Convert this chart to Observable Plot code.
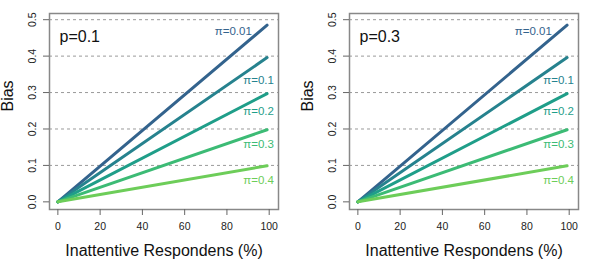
<!DOCTYPE html>
<html>
<head>
<meta charset="utf-8">
<script src="https://cdn.jsdelivr.net/npm/d3@7"></script>
<script src="https://cdn.jsdelivr.net/npm/@observablehq/plot@0.6"></script>
<style>
  html, body { margin: 0; padding: 0; background: #fff; }
  #wrap { display: flex; width: 599px; height: 270px; }
</style>
</head>
<body>
<div id="wrap"></div>
<script>
// ---- data ----
const panelLabels = ["p=0.1", "p=0.3"];
const piLabels = ["π=0.01", "π=0.1", "π=0.2", "π=0.3", "π=0.4"];
const startX = 0;
const endX = 99;
const startBias = [0, 0, 0, 0, 0];
const endBias = [0.485, 0.396, 0.297, 0.198, 0.099];
const labelX = [83, 95, 95, 95, 95];
const labelY = [0.468, 0.334, 0.249, 0.158, 0.059];
const lineColors = ["#33638D", "#26828E", "#1F9E89", "#3CBB75", "#6DCD59"];
const xTicks = [0, 20, 40, 60, 80, 100];
const yTicks = [0, 0.1, 0.2, 0.3, 0.4, 0.5];
const gridY = [0.1, 0.2, 0.3, 0.4, 0.5];
const xTitle = "Inattentive Respondens (%)";
const yTitle = "Bias";

const rows = piLabels.flatMap((pi, i) => [
  {pi, x: startX, bias: startBias[i]},
  {pi, x: endX, bias: endBias[i]}
]);
const labels = piLabels.map((pi, i) => ({pi, x: labelX[i], y: labelY[i]}));

function panel(pLabel, width) {
  return Plot.plot({
    width, height: 270,
    marginLeft: 49, marginRight: width - 278, marginTop: 13, marginBottom: 61,
    x: {domain: [-3.96, 104.4]},
    y: {domain: [-0.021, 0.517]},
    color: {type: "ordinal", domain: piLabels, range: lineColors},
    style: {fontFamily: "'Liberation Sans', Arial, sans-serif", background: "#fff", color: "#222"},
    marks: [
      Plot.ruleY(gridY, {stroke: "#9a9a9a", strokeWidth: 1, strokeDasharray: "3,3"}),
      Plot.line(rows, {x: "x", y: "bias", z: "pi", stroke: "pi", strokeWidth: 3, strokeLinecap: "round"}),
      Plot.frame({stroke: "#888", strokeWidth: 1.5}),
      Plot.axisX({ticks: xTicks, tickSize: 6, tickPadding: 7, fontSize: 10.5, label: null, stroke: "#666"}),
      Plot.axisY({ticks: yTicks, tickSize: 6, tickPadding: 8, tickRotate: -90, tickFormat: d3.format(".1f"), fontSize: 10.5, label: null, stroke: "#666"}),
      Plot.text([xTitle], {frameAnchor: "bottom", dy: 35, lineAnchor: "top", fontSize: 16, fill: "#111"}),
      Plot.text([yTitle], {frameAnchor: "left", rotate: -90, dx: -36.7, lineAnchor: "bottom", fontSize: 16, fill: "#111"}),
      Plot.text([pLabel], {frameAnchor: "top-left", dx: 10, dy: 28.5, lineAnchor: "bottom", textAnchor: "start", fontSize: 16, fill: "#111"}),
      Plot.text(labels, {x: "x", y: "y", text: "pi", fill: "pi", fontSize: 11.5, textAnchor: "middle", lineAnchor: "middle"})
    ]
  });
}

const wrap = document.getElementById("wrap");
wrap.appendChild(panel(panelLabels[0], 300));
wrap.appendChild(panel(panelLabels[1], 299));
</script>
</body>
</html>
